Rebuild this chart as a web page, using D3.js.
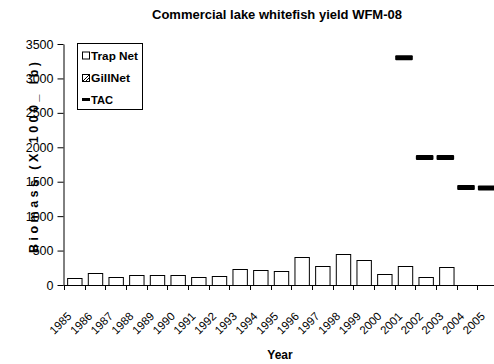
<!DOCTYPE html>
<html><head><meta charset="utf-8">
<script src="https://cdn.jsdelivr.net/npm/d3@7"></script>
<style>body{margin:0;background:#fff}svg{display:block;font-family:"Liberation Sans",Arial,sans-serif}</style>
</head><body><svg id="c" width="494" height="364"></svg>
<script>
const years = ["1985","1986","1987","1988","1989","1990","1991","1992","1993","1994","1995","1996","1997","1998","1999","2000","2001","2002","2003","2004","2005"];
const trapNet = [95,175,115,140,140,150,110,125,228,218,208,410,271,445,363,160,271,121,266,null,null];
const gillNet = [null,null,null,null,null,null,null,null,null,null,null,null,null,null,null,null,null,null,null,null,null];
const tac = [null,null,null,null,null,null,null,null,null,null,null,null,null,null,null,null,3300,1850,1850,1415,1410];
const yTicks = [0,500,1000,1500,2000,2500,3000,3500];

const svg = d3.select("#c");
const x = d3.scaleBand().domain(years).range([64, 498]).paddingInner(0).paddingOuter(0);
const y = d3.scaleLinear().domain([0, 3500]).range([285, 44]);

// title
svg.append("text").attr("x", 277).attr("y", 19).attr("text-anchor", "middle")
  .attr("font-size", 13.5).attr("font-weight", "bold")
  .attr("textLength", 250).attr("lengthAdjust", "spacingAndGlyphs")
  .text("Commercial lake whitefish yield WFM-08");

// bars
const bw = 14.4;
svg.append("g").selectAll("rect").data(years.map((d,i)=>({d, v: trapNet[i]})).filter(o=>o.v!=null))
  .join("rect")
  .attr("x", o => x(o.d) + (x.bandwidth()-bw)/2 + 0.5)
  .attr("y", o => Math.round(y(o.v)) + 0.5)
  .attr("width", bw)
  .attr("height", o => 285 - Math.round(y(o.v)))
  .attr("fill", "#fff").attr("stroke", "#000").attr("stroke-width", 1);

// TAC markers
const mw = 17.6, mh = 5;
svg.append("g").selectAll("rect").data(years.map((d,i)=>({d, v: tac[i]})).filter(o=>o.v!=null))
  .join("rect")
  .attr("x", o => x(o.d) + x.bandwidth()/2 - mw/2 - 1)
  .attr("y", o => y(o.v) - mh/2)
  .attr("width", mw).attr("height", mh).attr("rx", 1)
  .attr("fill", "#000");

// y axis
const yAxis = d3.axisLeft(y).tickValues(yTicks).tickFormat(d3.format("d")).tickSize(6).tickSizeOuter(0).tickPadding(4);
const gy = svg.append("g").attr("transform", "translate(63.5,0)").call(yAxis);
gy.selectAll("text").attr("font-size", 12.5).attr("fill", "#000").attr("font-family", "Liberation Sans, Arial, sans-serif");
gy.selectAll("line,path").attr("stroke", "#000");

// x axis line and boundary ticks
svg.append("line").attr("x1", 63.5).attr("x2", 498).attr("y1", 285.5).attr("y2", 285.5).attr("stroke", "#000");
const bounds = years.map(d => x(d)).concat([x.range()[1]]);
svg.append("g").selectAll("line").data(bounds).join("line")
  .attr("x1", d => Math.round(d) + 0.5).attr("x2", d => Math.round(d) + 0.5)
  .attr("y1", 285).attr("y2", 290).attr("stroke", "#000");
svg.append("g").selectAll("text").data(years).join("text")
  .attr("transform", d => `translate(${x(d) + x.bandwidth()/2 - 2},${317}) rotate(-45)`)
  .attr("text-anchor", "end").attr("font-size", 11.5).text(d => d);

// axis titles
svg.append("text").attr("x", 280).attr("y", 359).attr("text-anchor", "middle")
  .attr("font-size", 12).attr("font-weight", "bold").text("Year");
svg.append("text").attr("transform", "translate(38,157.5) rotate(-90)").attr("text-anchor", "middle")
  .attr("font-size", 12.5).attr("font-weight", "bold")
  .attr("textLength", 191).attr("lengthAdjust", "spacing")
  .text("Biomass (X 1000_ lb)");

// legend
const lg = svg.append("g");
lg.append("rect").attr("x", 77.5).attr("y", 43.5).attr("width", 65).attr("height", 66)
  .attr("fill", "#fff").attr("stroke", "#000");
const items = ["Trap Net","GillNet","TAC"];
const rowY = [55.5, 78, 99.5];
items.forEach((t,i)=>{
  const cy = rowY[i];
  if (i===0) {
    lg.append("rect").attr("x", 82.5).attr("y", cy-3.5).attr("width", 7).attr("height", 7).attr("fill","#fff").attr("stroke","#000");
  } else if (i===1) {
    lg.append("rect").attr("x", 82.5).attr("y", cy-3.5).attr("width", 7).attr("height", 7).attr("fill","#fff").attr("stroke","#000");
    lg.append("line").attr("x1", 83).attr("y1", cy+3).attr("x2", 89).attr("y2", cy-3).attr("stroke","#000");
    lg.append("line").attr("x1", 86).attr("y1", cy+3).attr("x2", 89).attr("y2", cy).attr("stroke","#000");
  } else {
    lg.append("rect").attr("x", 82).attr("y", cy-1.5).attr("width", 8).attr("height", 3).attr("fill","#000");
  }
  lg.append("text").attr("x", 91).attr("y", cy+4).attr("font-size", 11.5).attr("font-weight","bold")
    .attr("textLength", i===0?47:(i===1?39:22)).attr("lengthAdjust","spacingAndGlyphs").text(t);
});
</script></body></html>
